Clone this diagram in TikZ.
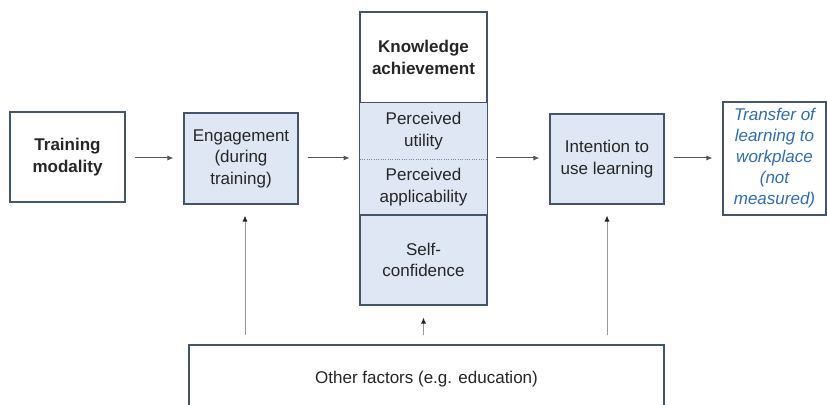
\documentclass[tikz,border=0pt]{standalone}
\usepackage{fontspec}
\setmainfont{Liberation Sans}
\usepackage{xcolor}
\usepackage{tikz}
\usetikzlibrary{positioning, arrows.meta}
\definecolor{edge}{HTML}{44546A}
\definecolor{boxlight}{HTML}{DEE7F3}
\definecolor{ink}{HTML}{262626}
\definecolor{linkblue}{HTML}{2F6DB5}
\definecolor{arrowgray}{HTML}{555555}
\definecolor{stemgray}{HTML}{9A9A9A}
\tikzset{
  base/.style    = {rectangle, draw=edge, line width=0.65pt, align=center, text=ink,
                    font=\fontsize{10.2}{12.9}\selectfont, inner sep=0pt},
  plain/.style   = {base, fill=white},
  stage/.style   = {base, fill=boxlight},
  part/.style    = {rectangle, fill=boxlight, align=center, text=ink,
                    font=\fontsize{10.2}{12.9}\selectfont, inner sep=0pt},
  outcome/.style = {base, fill=white, text=linkblue,
                    font=\fontsize{10.2}{12.6}\selectfont\itshape},
  ar/.style      = {-{Latex[length=1.3mm,width=1.1mm]}, semithick, draw=arrowgray,
                    shorten <=9*0.6pt, shorten >=10*0.6pt},
  up/.style      = {-{Latex[length=1.3mm,width=1.1mm,color=ink]}, semithick, draw=stemgray},
}

\begin{document}
\begin{tikzpicture}[x=0.6pt, y=-0.6pt]

  \clip (0,0) rectangle (827,405);
  \fill[white] (0,0) rectangle (827,405);

  \node[plain, minimum width=115*0.6pt, minimum height=90*0.6pt] (train) at (67.5,157)
       {\bfseries Training\\\bfseries modality};
  \node[stage, minimum width=114*0.6pt, minimum height=91*0.6pt] (engage) at (241,158.5)
       {Engagement\\(during\\training)};

  % knowledge column
  \node[plain, minimum width=127*0.6pt, minimum height=91*0.6pt] (know) at (423.5,57.5)
       {\bfseries Knowledge\\\bfseries achievement};
  \node[part, minimum width=127*0.6pt, minimum height=56*0.6pt] (util) at (423.5,131)
       {Perceived\\utility};
  \node[part, minimum width=127*0.6pt, minimum height=56*0.6pt] (appl) at (423.5,187)
       {Perceived\\applicability};
  \draw[edge, line width=0.65pt] (util.north west) rectangle (appl.south east);
  \draw[edge!70, densely dotted] (util.south west) -- (util.south east);
  \node[stage, minimum width=127*0.6pt, minimum height=90*0.6pt] (conf) at (423.5,260)
       {Self-\\confidence};

  \node[stage, minimum width=114*0.6pt, minimum height=90*0.6pt] (intent) at (607,159)
       {Intention to\\use learning};
  \node[outcome, minimum width=103*0.6pt, minimum height=113*0.6pt] (transfer) at (774.5,158.5)
       {Transfer of\\learning to\\workplace\\(not\\measured)};

  \node[plain, minimum width=475*0.6pt, minimum height=68*0.6pt] (other) at (426.5,379)
       {Other factors (e.g. education)};

  \draw[ar] (train.east |- 0,158) -- (engage.west |- 0,158);
  \draw[ar] (engage.east |- 0,158) -- (util.west |- 0,158);
  \draw[ar] (util.east |- 0,158) -- (intent.west |- 0,158);
  \draw[ar] (intent.east |- 0,158) -- (transfer.west |- 0,158);

  \draw[up] ([xshift=4*0.6pt]engage.south |- other.north) ++(0,-9) -- ++(0,-120);
  \draw[up] (conf.south |- other.north) ++(0,-9) -- ++(0,-18);
  \draw[up] (intent.south |- other.north) ++(0,-9) -- ++(0,-120);

\end{tikzpicture}
\end{document}
